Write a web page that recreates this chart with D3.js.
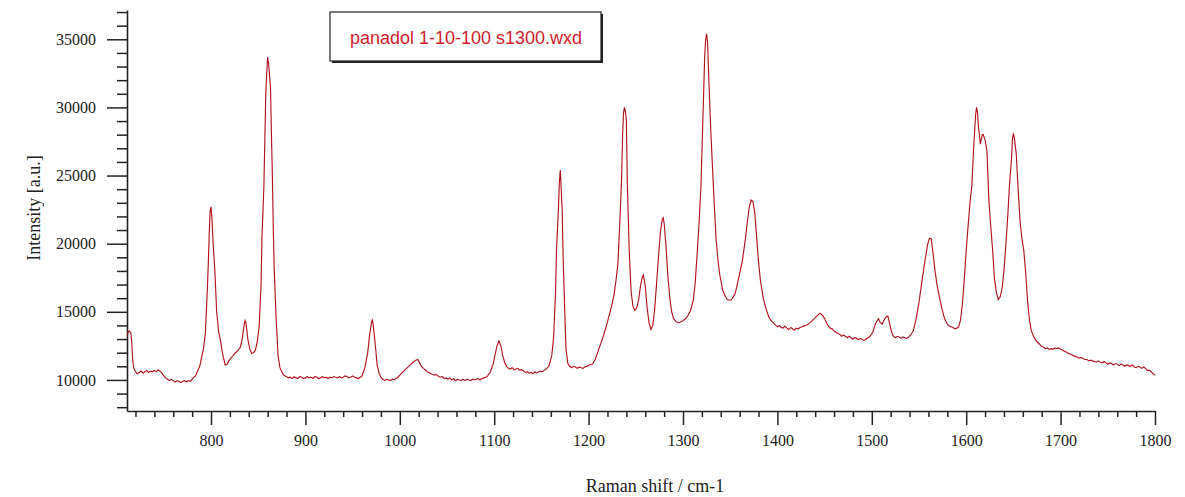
<!DOCTYPE html>
<html>
<head>
<meta charset="utf-8">
<script src="https://cdn.jsdelivr.net/npm/d3@7"></script>
<style>
  html, body { margin: 0; padding: 0; background: #fff; }
  svg { display: block; }
</style>
</head>
<body>
<svg id="chart" width="1185" height="497"></svg>
<script>
// ---- Data ----
const legendLabel = "panadol 1-10-100 s1300.wxd";
const xTitle = "Raman shift / cm-1";
const yTitle = "Intensity [a.u.]";
const xMajorTicks = [800, 900, 1000, 1100, 1200, 1300, 1400, 1500, 1600, 1700, 1800];
const yMajorTicks = [10000, 15000, 20000, 25000, 30000, 35000];

// [Raman shift (cm-1), intensity (a.u.)]
const spectrum = [
  [711,13300],[713,13600],[715,13500],[716,12800],[717,11500],[718,10900],[720,10600],[722,10450],[724,10550],[726,10650],
  [728,10500],[730,10600],[732,10700],[734,10550],[736,10650],[738,10600],[740,10700],[742,10600],[744,10750],[746,10650],
  [748,10500],[750,10300],[752,10150],[754,10050],[756,9950],[758,10050],[760,9950],[762,9850],[764,9950],[766,9900],
  [768,9800],[770,9900],[772,9950],[774,9850],[776,9950],[778,9900],[780,10050],[782,10200],[784,10350],[786,10700],
  [788,11000],[789,11300],[792,12300],[794,13400],[796,16500],[797,18300],[798,20500],[799,22400],[800,22700],[801,21800],
  [802,20300],[804,18100],[806,15000],[808,13600],[810,12900],[812,12000],[815,11100],[817,11150],[819,11400],[821,11600],
  [823,11750],[825,11950],[827,12050],[829,12200],[831,12400],[833,13000],[835,14000],[836,14350],[837,14200],[839,13000],
  [841,12300],[843,11950],[845,12000],[847,12200],[849,12800],[851,13900],[853,17000],[854,20500],[856,24200],[857,27500],
  [858,31000],[859,32500],[860,33700],[861,33200],[863,31500],[864,28000],[865,25000],[866,21000],[867,18000],[869,14500],
  [871,11800],[873,10900],[876,10450],[878,10300],[880,10250],[882,10150],[884,10200],[886,10100],[888,10250],[890,10150],
  [892,10100],[894,10250],[896,10200],[898,10100],[900,10150],[902,10250],[904,10150],[906,10200],[908,10100],[910,10250],
  [912,10200],[914,10100],[916,10150],[918,10250],[920,10150],[922,10200],[924,10100],[926,10200],[928,10150],[930,10250],
  [932,10200],[934,10150],[936,10250],[938,10150],[940,10200],[942,10300],[944,10250],[946,10150],[948,10200],[950,10300],
  [952,10200],[954,10150],[956,10100],[958,10200],[960,10300],[963,10900],[966,12000],[968,13300],[970,14200],[971,14450],
  [972,13900],[974,12600],[976,11100],[978,10500],[980,10200],[982,10050],[984,9950],[986,10050],[988,10000],[990,9950],
  [992,10050],[994,10000],[996,10100],[998,10200],[1000,10350],[1002,10500],[1005,10700],[1008,10900],[1011,11100],[1014,11300],
  [1017,11450],[1019,11500],[1021,11250],[1023,11000],[1025,10850],[1027,10750],[1029,10600],[1031,10550],[1033,10450],[1035,10400],
  [1037,10350],[1039,10400],[1041,10250],[1043,10200],[1045,10250],[1047,10100],[1049,10150],[1051,10050],[1053,10150],[1055,10000],
  [1057,10100],[1059,9950],[1061,10050],[1063,10000],[1065,9950],[1067,10050],[1069,9950],[1071,10050],[1073,10000],[1075,9950],
  [1077,10050],[1079,10000],[1081,10050],[1083,10100],[1085,10000],[1087,10100],[1089,10150],[1091,10200],[1093,10300],[1096,10600],
  [1099,11200],[1101,11900],[1103,12500],[1105,12850],[1107,12500],[1109,11800],[1111,11300],[1113,11000],[1115,10850],[1117,10800],
  [1119,10900],[1121,10750],[1123,10800],[1125,10850],[1127,10700],[1129,10750],[1131,10650],[1133,10550],[1135,10600],[1137,10500],
  [1139,10550],[1141,10450],[1143,10600],[1145,10500],[1147,10600],[1149,10650],[1151,10600],[1153,10700],[1155,10800],[1158,11000],
  [1161,11800],[1163,13200],[1165,16500],[1166,19500],[1168,22500],[1169,24500],[1170,25400],[1171,24000],[1172,22500],[1173,19000],
  [1175,14500],[1176,12300],[1178,11200],[1180,11000],[1182,10900],[1184,11000],[1186,10950],[1188,10850],[1190,10950],[1192,10900],
  [1194,10850],[1196,10950],[1198,11000],[1200,11050],[1202,11150],[1204,11150],[1207,11500],[1210,12100],[1213,12700],[1216,13300],
  [1219,14000],[1222,14800],[1225,15600],[1227,16300],[1229,17300],[1231,18500],[1233,21500],[1235,24800],[1236,28000],[1237,29600],
  [1238,30000],[1239,29700],[1240,29000],[1241,24500],[1243,19500],[1245,16500],[1247,15400],[1249,15100],[1251,15300],[1253,15900],
  [1255,16900],[1257,17600],[1258,17700],[1260,16900],[1262,15300],[1264,14200],[1266,13700],[1268,14000],[1270,15200],[1272,17100],
  [1274,19000],[1276,20800],[1278,21800],[1279,21900],[1280,21500],[1282,19800],[1284,17600],[1286,16000],[1288,15000],[1290,14500],
  [1293,14250],[1296,14200],[1299,14300],[1302,14450],[1305,14700],[1308,15100],[1311,15900],[1313,17200],[1315,19300],[1317,21500],
  [1319,24200],[1321,29000],[1323,33800],[1324,35000],[1325,35400],[1326,34800],[1327,32800],[1329,29000],[1330,27400],[1332,24500],
  [1333,23000],[1335,20400],[1337,18800],[1339,17700],[1342,16600],[1345,16100],[1347,15900],[1350,15850],[1352,15950],[1355,16300],
  [1357,16850],[1360,17800],[1363,18800],[1366,20300],[1368,21500],[1370,22600],[1372,23200],[1374,23100],[1376,22300],[1378,20500],
  [1380,18700],[1382,17300],[1385,16000],[1388,15200],[1391,14600],[1394,14300],[1397,14100],[1400,13900],[1402,14000],[1404,13850],
  [1406,13800],[1408,13950],[1410,13800],[1412,13700],[1414,13850],[1416,13750],[1418,13650],[1420,13800],[1422,13750],[1424,13850],
  [1426,13900],[1428,13950],[1430,14000],[1433,14100],[1436,14300],[1439,14500],[1442,14700],[1445,14900],[1447,14800],[1450,14500],
  [1453,14050],[1456,13800],[1458,13750],[1460,13600],[1462,13500],[1464,13400],[1466,13350],[1468,13200],[1470,13300],[1472,13200],
  [1474,13100],[1476,13200],[1478,13100],[1480,13000],[1482,13100],[1484,13050],[1486,12950],[1488,13050],[1490,12950],[1492,12900],
  [1494,13000],[1496,13100],[1498,13200],[1501,13500],[1504,14150],[1507,14500],[1509,14200],[1511,14100],[1513,14400],[1515,14600],
  [1517,14700],[1519,14100],[1521,13500],[1523,13200],[1525,13100],[1527,13200],[1529,13150],[1531,13050],[1533,13150],[1535,13100],
  [1537,13050],[1539,13150],[1541,13300],[1544,13600],[1547,14500],[1550,15700],[1553,17200],[1556,18600],[1559,19900],[1561,20400],
  [1563,20350],[1565,19200],[1567,18000],[1569,17000],[1571,16300],[1574,15300],[1577,14500],[1580,14100],[1582,13950],[1584,13900],
  [1586,13850],[1588,13750],[1590,13800],[1592,13900],[1594,14400],[1596,15600],[1598,17400],[1600,19500],[1602,21300],[1604,23000],
  [1606,24300],[1608,27200],[1610,29500],[1611,30000],[1612,29600],[1613,28600],[1615,27300],[1617,28000],[1618,28000],[1620,27600],
  [1622,26800],[1624,23200],[1626,21300],[1628,19500],[1630,17400],[1632,16400],[1634,15900],[1636,16100],[1638,16700],[1640,18000],
  [1642,19900],[1644,22000],[1646,24500],[1648,26200],[1649,27700],[1650,28100],[1651,27800],[1653,26600],[1655,24000],[1657,21700],
  [1659,20400],[1661,19500],[1663,17900],[1665,15800],[1667,14400],[1669,13600],[1672,13100],[1675,12800],[1678,12600],[1680,12450],
  [1682,12400],[1684,12300],[1686,12350],[1688,12250],[1690,12300],[1692,12250],[1694,12350],[1696,12300],[1698,12350],[1700,12250],
  [1702,12200],[1704,12100],[1706,12050],[1708,11950],[1710,11900],[1712,11850],[1714,11750],[1716,11750],[1718,11650],[1720,11600],
  [1722,11650],[1724,11550],[1726,11500],[1728,11500],[1730,11400],[1732,11450],[1734,11400],[1736,11350],[1738,11300],[1740,11400],
  [1742,11300],[1744,11250],[1746,11350],[1748,11250],[1750,11150],[1752,11250],[1754,11200],[1756,11100],[1758,11200],[1760,11150],
  [1762,11050],[1764,11150],[1766,11100],[1768,11000],[1770,11100],[1772,11050],[1774,11000],[1776,11100],[1778,10950],[1780,10900],
  [1782,11000],[1784,10950],[1786,10850],[1788,10950],[1790,10850],[1792,10700],[1794,10700],[1796,10600],[1798,10450],[1800,10350]
];

// ---- Layout ----
const svg = d3.select("#chart");
const plotLeft = 127, plotRight = 1155, plotTop = 10, plotBottom = 411;

const x = d3.scaleLinear().domain([711, 1800]).range([plotLeft, plotRight]);
const y = d3.scaleLinear().domain([7720, 37150]).range([plotBottom, plotTop]);

const serif = "'Liberation Serif', 'Times New Roman', serif";
const sans = "'Liberation Sans', Arial, sans-serif";
const axisColor = "#222";

// minor x ticks
const xMinor = d3.range(720, 1801, 20).filter(v => v % 100 !== 0);
svg.append("g").attr("transform", `translate(0,${plotBottom})`)
  .call(d3.axisBottom(x).tickValues(xMinor).tickSize(6).tickFormat(""))
  .call(g => g.select(".domain").remove())
  .call(g => g.selectAll("line").attr("stroke", axisColor).attr("stroke-width", 1.5));

// major x ticks + labels
svg.append("g").attr("transform", `translate(0,${plotBottom})`)
  .call(d3.axisBottom(x).tickValues(xMajorTicks).tickSize(14).tickPadding(10).tickSizeOuter(0).tickFormat(d3.format("d")))
  .call(g => g.select(".domain").attr("stroke", axisColor).attr("stroke-width", 1.6))
  .call(g => g.selectAll("line").attr("stroke", axisColor).attr("stroke-width", 1.5))
  .call(g => g.selectAll("text").attr("font-family", serif).attr("font-size", 16).attr("fill", axisColor));

// minor y ticks
const yMinor = d3.range(8000, 37001, 1000).filter(v => v % 5000 !== 0);
svg.append("g").attr("transform", `translate(${plotLeft},0)`)
  .call(d3.axisLeft(y).tickValues(yMinor).tickSize(10).tickFormat(""))
  .call(g => g.select(".domain").remove())
  .call(g => g.selectAll("line").attr("stroke", axisColor).attr("stroke-width", 1.5));

// major y ticks + labels
svg.append("g").attr("transform", `translate(${plotLeft},0)`)
  .call(d3.axisLeft(y).tickValues(yMajorTicks).tickSize(20).tickPadding(11).tickSizeOuter(0).tickFormat(d3.format("d")))
  .call(g => g.select(".domain").attr("stroke", axisColor).attr("stroke-width", 1.6))
  .call(g => g.selectAll("line").attr("stroke", axisColor).attr("stroke-width", 1.5))
  .call(g => g.selectAll("text").attr("font-family", serif).attr("font-size", 16).attr("fill", axisColor));

// axis titles
svg.append("text")
  .attr("x", 655).attr("y", 492)
  .attr("text-anchor", "middle")
  .attr("font-family", serif).attr("font-size", 18).attr("fill", axisColor)
  .text(xTitle);

svg.append("text")
  .attr("transform", "translate(40,208) rotate(-90)")
  .attr("text-anchor", "middle")
  .attr("font-family", serif).attr("font-size", 18).attr("fill", axisColor)
  .text(yTitle);

// spectrum line
const line = d3.line().x(d => x(d[0])).y(d => y(d[1]));
svg.append("path")
  .datum(spectrum)
  .attr("fill", "none")
  .attr("stroke", "#b0141e")
  .attr("stroke-width", 1.15)
  .attr("stroke-linejoin", "miter")
  .attr("d", line);

// legend box
const lg = svg.append("g");
lg.append("rect").attr("x", 332).attr("y", 14).attr("width", 271).attr("height", 49).attr("fill", axisColor);
lg.append("rect").attr("x", 330).attr("y", 12).attr("width", 271).attr("height", 49)
  .attr("fill", "#fff").attr("stroke", axisColor).attr("stroke-width", 1.2);
lg.append("text")
  .attr("x", 466).attr("y", 44)
  .attr("text-anchor", "middle")
  .attr("font-family", sans).attr("font-size", 18).attr("fill", "#d01c2c")
  .text(legendLabel);
</script>
</body>
</html>
